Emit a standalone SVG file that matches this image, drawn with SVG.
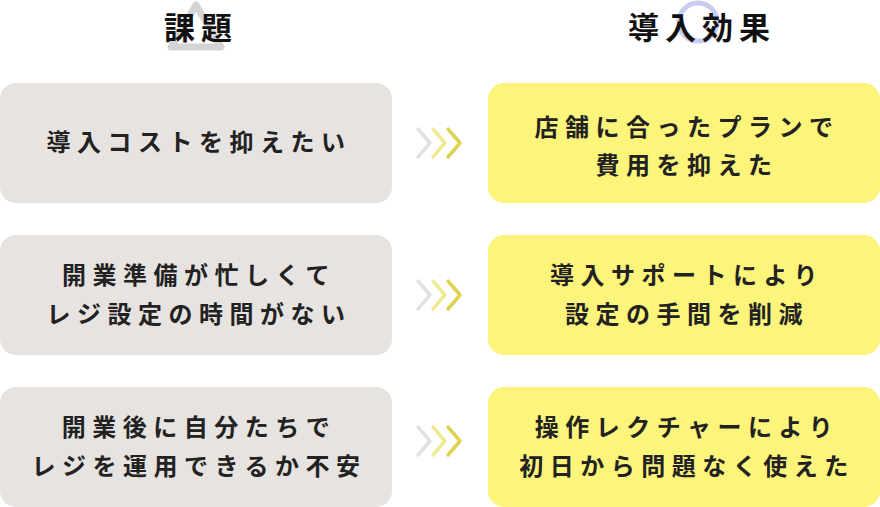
<svg xmlns="http://www.w3.org/2000/svg" width="880" height="507" viewBox="0 0 880 507">
<style>
.h{font-family:"Noto Sans CJK JP",sans-serif;font-size:31px;font-weight:700;fill:#111;text-anchor:middle;letter-spacing:6px}
.t{font-family:"Noto Sans CJK JP",sans-serif;font-size:24px;font-weight:700;fill:#222;text-anchor:middle;letter-spacing:6.5px}
.l{fill:#e6e3e1}
.r{fill:#fcf47b}
.c{fill:none;stroke-width:3.5;stroke-linecap:round;stroke-linejoin:round}
</style>
<defs>
<g id="chev">
<polyline class="c" stroke="#e3e1df" points="418,129 430,143 418,157"/>
<polyline class="c" stroke="#eeea96" points="433,129 445,143 433,157"/>
<polyline class="c" stroke="#ddd350" points="448,129 460,143 448,157"/>
</g>
</defs>
<g id="header-left">
<polygon points="196,5 221,47 171,47" fill="none" stroke="#d4d4d4" stroke-width="7" stroke-linejoin="round"/>
<text class="h" x="201" y="39">課題</text>
</g>
<g id="header-right">
<circle cx="698" cy="22" r="19" fill="none" stroke="#c9cdf0" stroke-width="5"/>
<text class="h" x="702" y="39">導入効果</text>
</g>
<g id="l1"><rect class="l" x="0" y="83" width="392" height="120" rx="16"/><text class="t" x="199" y="151">導入コストを抑えたい</text></g>
<g id="l2"><rect class="l" x="0" y="235" width="392" height="120" rx="16"/><text class="t" x="199" y="284">開業準備が忙しくて</text><text class="t" x="199" y="323">レジ設定の時間がない</text></g>
<g id="l3"><rect class="l" x="0" y="387" width="392" height="120" rx="16"/><text class="t" x="199" y="436">開業後に自分たちで</text><text class="t" x="199" y="475">レジを運用できるか不安</text></g>
<g id="r1"><rect class="r" x="488" y="83" width="392" height="120" rx="16"/><text class="t" x="687" y="136">店舗に合ったプランで</text><text class="t" x="687" y="174">費用を抑えた</text></g>
<g id="r2"><rect class="r" x="488" y="235" width="392" height="120" rx="16"/><text class="t" x="687" y="284">導入サポートにより</text><text class="t" x="687" y="323">設定の手間を削減</text></g>
<g id="r3"><rect class="r" x="488" y="387" width="392" height="120" rx="16"/><text class="t" x="687" y="436">操作レクチャーにより</text><text class="t" x="687" y="475">初日から問題なく使えた</text></g>
<g id="connectors">
<use href="#chev"/>
<use href="#chev" y="152"/>
<use href="#chev" y="298"/>
</g>
</svg>
